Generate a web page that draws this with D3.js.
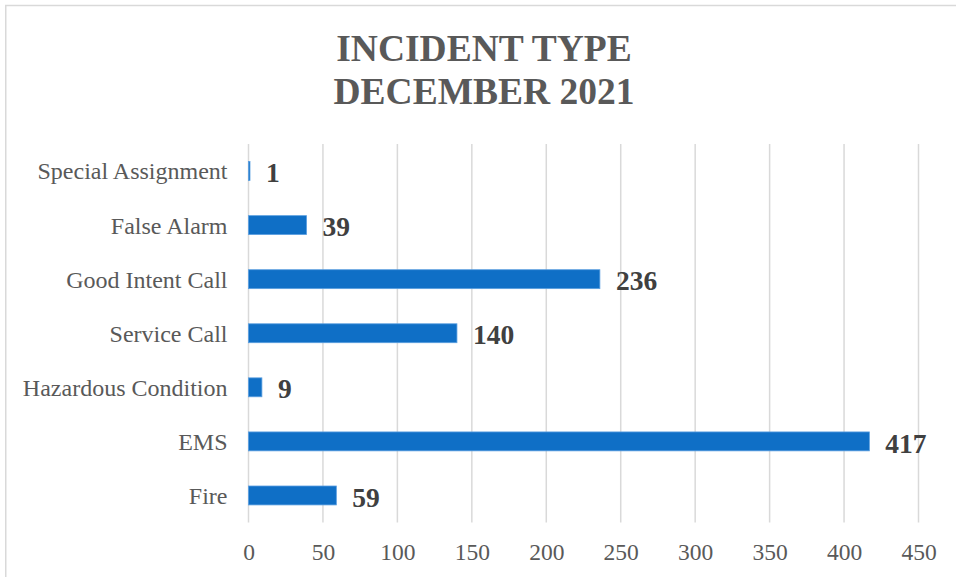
<!DOCTYPE html>
<html>
<head>
<meta charset="utf-8">
<script src="https://cdn.jsdelivr.net/npm/d3@7"></script>
<style>
  html, body { margin: 0; padding: 0; background: #fff; }
  svg { display: block; }
</style>
</head>
<body>
<svg id="chart" width="956" height="577"></svg>
<script>
const categories = ["Special Assignment", "False Alarm", "Good Intent Call", "Service Call", "Hazardous Condition", "EMS", "Fire"];
const values = [1, 39, 236, 140, 9, 417, 59];
const xTicks = [0, 50, 100, 150, 200, 250, 300, 350, 400, 450];
const titleLines = ["INCIDENT TYPE", "DECEMBER 2021"];

const svg = d3.select("#chart");
const W = 956, H = 577;
const margin = { left: 248.5, right: 956 - 918.5, top: 144, bottom: 577 - 522.5 };
const serif = "'Liberation Serif', 'Times New Roman', Times, serif";

svg.append("rect").attr("width", W).attr("height", H).attr("fill", "#fff");
svg.append("rect")
  .attr("x", 5.75).attr("y", 5.5)
  .attr("width", W + 20).attr("height", H + 20)
  .attr("fill", "none").attr("stroke", "#d9d9d9").attr("stroke-width", 1.5);

// Title
svg.append("g").selectAll("text").data(titleLines).join("text")
  .attr("x", 484)
  .attr("y", (d, i) => 60.5 + i * 43)
  .attr("text-anchor", "middle")
  .attr("font-family", serif)
  .attr("font-weight", "bold")
  .attr("font-size", 37.5)
  .attr("fill", "#595959")
  .text(d => d);

const x = d3.scaleLinear().domain([0, 450]).range([margin.left, W - margin.right]);
const y = d3.scaleBand().domain(categories).range([margin.top, H - margin.bottom]).paddingInner(0.65).paddingOuter(0.325);

// Gridlines
svg.append("g").selectAll("line").data(xTicks).join("line")
  .attr("x1", d => x(d)).attr("x2", d => x(d))
  .attr("y1", margin.top).attr("y2", H - margin.bottom)
  .attr("stroke", "#d9d9d9").attr("stroke-width", 1.5);

// X axis labels
const xAxis = d3.axisBottom(x).tickValues(xTicks).tickSize(0).tickPadding(0).tickFormat(d3.format("d"));
const gx = svg.append("g").attr("transform", `translate(0, ${H - margin.bottom})`).call(xAxis);
gx.select(".domain").remove();
gx.selectAll("text")
  .attr("y", 29).attr("dy", "0.35em")
  .attr("font-family", serif).attr("font-size", 23.5).attr("fill", "#595959");

// Y axis labels
const yAxis = d3.axisLeft(y).tickSize(0).tickPadding(0);
const gy = svg.append("g").attr("transform", `translate(${margin.left}, 0)`).call(yAxis);
gy.select(".domain").remove();
gy.selectAll("text")
  .attr("x", -21).attr("dy", "0.35em")
  .attr("font-family", serif).attr("font-size", 24).attr("fill", "#595959");

const data = categories.map((c, i) => ({ c, v: values[i] }));

// Bars
svg.append("g").selectAll("rect").data(data).join("rect")
  .attr("x", x(0))
  .attr("y", d => y(d.c))
  .attr("width", d => x(d.v) - x(0))
  .attr("height", y.bandwidth())
  .attr("fill", "#0F6FC6")
  .attr("stroke", "#5b9fe0").attr("stroke-width", 0.8);

// Value labels
svg.append("g").selectAll("text").data(data).join("text")
  .attr("x", d => x(d.v) + 16)
  .attr("y", d => y(d.c) + y.bandwidth() / 2 + 1.5)
  .attr("dy", "0.35em")
  .attr("font-family", serif).attr("font-weight", "bold").attr("font-size", 27.5)
  .attr("fill", "#404040")
  .text(d => d.v);
</script>
</body>
</html>
